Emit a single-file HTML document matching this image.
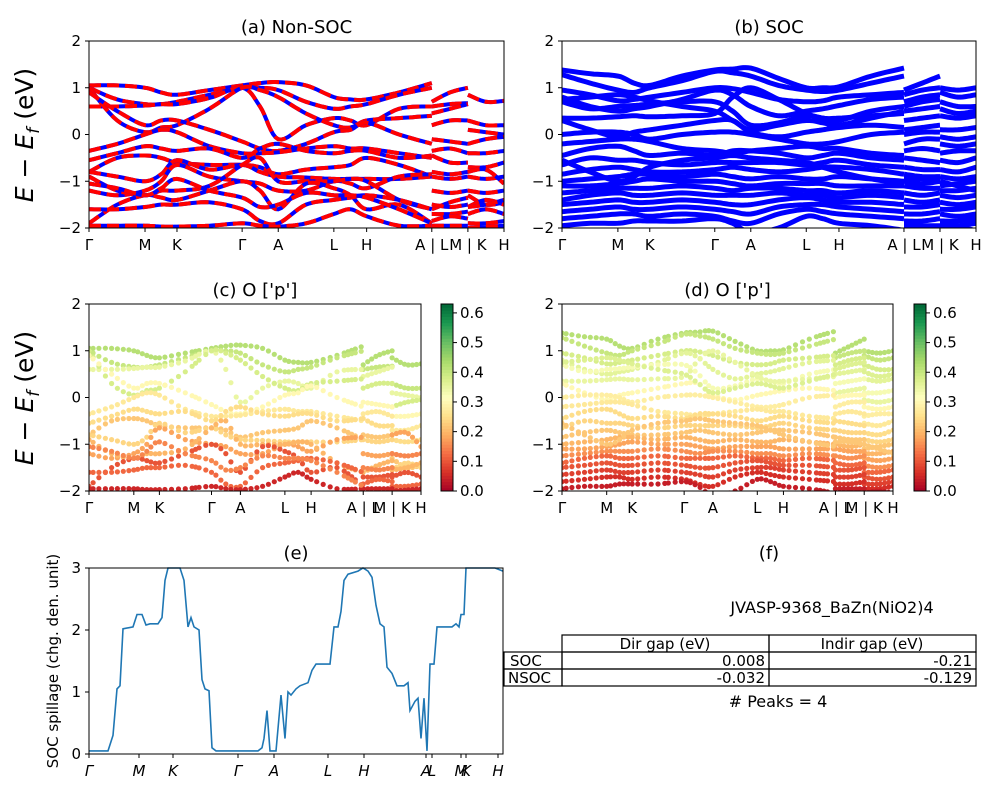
<!DOCTYPE html>
<html><head><meta charset="utf-8"><style>
body{margin:0;background:#fff}
svg{display:block;font-family:"DejaVu Sans","Liberation Sans",sans-serif}
</style></head><body>
<svg id="fig" width="1000" height="800" viewBox="0 0 1000 800" xmlns="http://www.w3.org/2000/svg"></svg>
<script>
// ---------- DATA ----------
const kGrid=[0,0.068,0.135,0.174,0.212,0.29,0.369,0.412,0.456,0.523,0.59,0.63,0.669,0.747,0.826,0.826,0.87,0.913,0.913,0.956,1];
const kTickPos=[0,0.135,0.212,0.369,0.456,0.59,0.669,0.826,0.913,1];
const kTickLabels=["Γ","M","K","Γ","A","L","H","A | L","M | K","H"];
const segBreaks=[[0,14],[15,17],[18,20]];
const nsocBands=[
[1.05,1.05,1.0,0.9,0.85,0.95,1.05,1.1,1.12,1.05,0.8,0.75,0.75,0.9,1.1,0.7,0.9,1.0,0.85,0.7,0.72],
[1.0,0.75,0.65,0.65,0.7,0.85,1.0,1.0,0.95,0.7,0.55,0.6,0.65,0.85,1.0,0.6,0.65,0.67,0.3,0.2,0.2],
[0.6,0.6,0.62,0.65,0.65,0.78,1.0,0.6,-0.1,0.2,0.35,0.3,0.2,0.55,0.6,0.45,0.55,0.65,0.1,0.05,0.0],
[1.0,0.3,0.05,0.15,0.2,0.55,1.0,0.95,0.8,0.45,0.2,0.15,0.3,0.35,0.4,0.2,0.3,0.3,-0.2,-0.1,-0.05],
[0.9,0.5,0.2,0.3,0.3,0.1,-0.15,-0.3,-0.35,-0.2,0.05,0.1,0.25,0.0,-0.2,-0.1,-0.15,-0.2,-0.4,-0.4,-0.35],
[-0.35,-0.2,0.0,0.1,0.05,-0.25,-0.4,-0.4,-0.38,-0.3,-0.25,-0.3,-0.3,-0.4,-0.5,-0.35,-0.3,-0.4,-0.7,-0.7,-0.6],
[-0.55,-0.4,-0.25,-0.3,-0.35,-0.3,-0.5,-0.3,-0.2,-0.35,-0.4,-0.35,-0.35,-0.5,-0.45,-0.45,-0.6,-0.6,-0.9,-0.95,-0.9],
[-0.8,-0.5,-0.45,-0.5,-0.6,-0.65,-0.65,-0.7,-0.85,-0.75,-0.7,-0.65,-0.5,-0.65,-0.9,-0.8,-0.85,-0.8,-1.3,-1.5,-1.45],
[-0.8,-0.9,-1.0,-0.85,-0.55,-0.75,-0.65,-0.8,-0.9,-0.92,-0.95,-0.95,-0.95,-0.95,-0.9,-0.9,-0.95,-0.9,-1.55,-1.4,-1.5],
[-1.2,-1.3,-1.2,-1.0,-0.65,-0.9,-1.0,-1.05,-1.2,-1.2,-1.0,-1.05,-1.15,-0.9,-0.85,-1.2,-1.25,-1.2,-0.8,-0.75,-1.05],
[-0.9,-1.2,-1.3,-1.2,-1.2,-1.1,-0.65,-0.5,-1.0,-1.0,-1.0,-0.95,-1.0,-1.4,-1.6,-1.6,-1.45,-1.35,-1.55,-1.5,-1.4],
[-1.9,-1.5,-1.3,-1.35,-1.4,-1.2,-1.0,-1.2,-1.6,-1.05,-1.15,-1.3,-1.6,-1.5,-1.9,-1.7,-1.7,-1.65,-1.7,-1.6,-1.7],
[-1.6,-1.6,-1.55,-1.5,-1.5,-1.45,-1.6,-1.85,-1.9,-1.5,-1.4,-1.35,-1.3,-1.4,-1.6,-1.85,-1.75,-1.8,-1.9,-1.9,-1.85],
[-1.95,-1.95,-1.95,-1.97,-1.97,-1.95,-1.9,-1.95,-1.97,-1.9,-1.7,-1.6,-1.75,-1.95,-1.95,-1.95,-1.95,-1.95,-2.0,-1.98,-1.95],
[-1.05,-1.15,-1.3,-1.15,-0.95,-1.2,-1.35,-1.55,-1.5,-1.25,-1.3,-1.3,-1.35,-1.6,-1.9,-1.5,-1.55,-1.5,-1.2,-1.25,-1.2]
];
const nsocWeights=[0.42,0.4,0.35,0.38,0.3,0.27,0.25,0.22,0.24,0.18,0.2,0.1,0.12,0.05,0.15];
const socBands=[
[1.38,1.3,1.25,1.1,1.05,1.25,1.38,1.4,1.42,1.2,1.0,1.0,1.02,1.25,1.42,0.95,1.1,1.25,1.0,0.95,1.0],
[1.28,1.1,0.95,0.9,1.0,1.15,1.35,1.32,1.25,1.05,0.95,0.92,0.95,1.1,1.25,0.85,0.95,1.0,0.9,0.8,0.85],
[0.95,0.85,0.72,0.75,0.8,0.9,1.0,0.98,0.9,0.75,0.7,0.72,0.8,0.85,0.9,0.7,0.8,0.85,0.7,0.6,0.6],
[0.8,0.6,0.5,0.55,0.6,0.75,0.95,0.85,0.6,0.4,0.5,0.55,0.62,0.75,0.8,0.5,0.55,0.6,0.4,0.35,0.4],
[0.7,0.55,0.6,0.62,0.65,0.7,0.7,0.5,0.2,0.25,0.4,0.35,0.3,0.5,0.6,0.3,0.35,0.4,0.1,0.1,0.15],
[0.35,0.35,0.38,0.4,0.38,0.4,0.45,0.8,1.0,0.75,0.45,0.35,0.35,0.4,0.45,0.1,0.15,0.2,-0.05,-0.1,-0.05],
[0.3,0.1,-0.05,0.05,0.1,0.2,0.3,0.3,0.05,-0.05,0.05,0.1,0.15,0.2,0.15,0.0,0.05,0.05,-0.2,-0.25,-0.2],
[0.0,0.05,0.05,0.0,-0.1,0.0,0.05,0.05,0.0,-0.1,-0.2,-0.2,-0.15,0.0,0.05,-0.2,-0.1,-0.1,-0.4,-0.35,-0.35],
[-0.2,-0.15,-0.1,-0.1,-0.15,-0.3,-0.35,-0.4,-0.35,-0.3,-0.25,-0.3,-0.3,-0.4,-0.45,-0.35,-0.3,-0.35,-0.55,-0.6,-0.5],
[-0.45,-0.3,-0.25,-0.35,-0.45,-0.4,-0.45,-0.35,-0.35,-0.4,-0.5,-0.45,-0.4,-0.5,-0.55,-0.5,-0.55,-0.6,-0.75,-0.8,-0.7],
[-0.65,-0.5,-0.55,-0.55,-0.6,-0.65,-0.6,-0.6,-0.6,-0.6,-0.65,-0.6,-0.55,-0.65,-0.7,-0.7,-0.75,-0.75,-0.9,-0.95,-0.9],
[-0.85,-0.75,-0.7,-0.75,-0.8,-0.8,-0.75,-0.7,-0.75,-0.8,-0.75,-0.7,-0.7,-0.75,-0.85,-0.85,-0.9,-0.9,-1.1,-1.05,-1.0],
[-1.0,-0.95,-0.9,-0.85,-0.85,-0.9,-0.85,-0.9,-0.95,-0.9,-0.95,-0.95,-0.9,-0.95,-1.0,-1.0,-1.05,-1.0,-1.2,-1.2,-1.15],
[-1.1,-1.1,-1.05,-1.0,-0.95,-1.0,-1.0,-1.05,-1.1,-1.05,-1.05,-1.05,-1.1,-1.1,-1.1,-1.1,-1.15,-1.15,-1.3,-1.35,-1.3],
[-1.25,-1.2,-1.15,-1.15,-1.15,-1.1,-1.15,-1.2,-1.15,-1.15,-1.2,-1.2,-1.25,-1.2,-1.25,-1.25,-1.3,-1.25,-1.45,-1.5,-1.45],
[-1.4,-1.3,-1.25,-1.3,-1.3,-1.25,-1.3,-1.3,-1.3,-1.25,-1.3,-1.3,-1.35,-1.3,-1.35,-1.4,-1.45,-1.4,-1.6,-1.6,-1.55],
[-1.5,-1.45,-1.4,-1.45,-1.45,-1.4,-1.45,-1.5,-1.5,-1.4,-1.35,-1.4,-1.45,-1.45,-1.5,-1.55,-1.55,-1.5,-1.7,-1.75,-1.7],
[-1.65,-1.6,-1.55,-1.6,-1.6,-1.55,-1.6,-1.65,-1.7,-1.55,-1.5,-1.5,-1.55,-1.6,-1.65,-1.7,-1.7,-1.65,-1.85,-1.85,-1.8],
[-1.8,-1.75,-1.7,-1.7,-1.75,-1.7,-1.75,-1.85,-1.9,-1.7,-1.6,-1.65,-1.7,-1.75,-1.8,-1.85,-1.85,-1.8,-1.95,-1.95,-1.9],
[-1.95,-1.9,-1.9,-1.85,-1.85,-1.85,-1.8,-1.9,-2.1,-2.0,-1.75,-1.8,-1.9,-1.95,-2.05,-1.95,-1.95,-1.95,-2.05,-2.0,-2.05],
[0.75,0.8,0.85,0.8,0.72,0.6,0.5,0.3,0.1,0.2,0.3,0.25,0.2,0.35,0.5,0.6,0.7,0.75,0.55,0.45,0.5],
[-0.55,-0.8,-1.0,-0.9,-0.7,-0.55,-0.5,-0.45,-0.5,-0.55,-0.6,-0.7,-0.8,-0.95,-1.05,-0.95,-0.95,-1.0,-1.0,-1.1,-1.2]
];
const socWeights=[0.42,0.4,0.38,0.36,0.33,0.35,0.3,0.28,0.27,0.25,0.24,0.22,0.2,0.18,0.16,0.12,0.1,0.08,0.06,0.04,0.37,0.22];
const cbTicks=[0.0,0.1,0.2,0.3,0.4,0.5,0.6];
const cbMax=0.63;
const spillK=[0,0.19,0.24,0.28,0.31,0.34,0.44,0.48,0.53,0.57,0.61,0.69,0.73,0.76,0.79,0.91,0.95,0.99,1.02,1.05,1.10,1.13,1.16,1.20,1.23,1.27,1.69,1.73,1.75,1.78,1.81,1.87,1.92,1.96,1.99,2.02,2.07,2.11,2.19,2.23,2.27,2.41,2.45,2.49,2.52,2.55,2.59,2.69,2.74,2.79,2.83,2.87,2.91,2.95,2.98,3.03,3.08,3.15,3.19,3.21,3.26,3.29,3.32,3.35,3.38,3.41,3.45,3.48,3.63,3.67,3.70,3.72,3.75,3.77,4.06,4.14];
const spillV=[0.05,0.05,0.3,1.05,1.1,2.02,2.05,2.25,2.25,2.08,2.1,2.1,2.2,2.8,3.0,3.0,2.8,2.05,2.2,2.05,2.0,1.2,1.05,1.02,0.1,0.05,0.05,0.1,0.25,0.7,0.05,0.05,0.95,0.25,1.0,0.95,1.05,1.1,1.15,1.35,1.45,1.45,2.05,2.05,2.3,2.8,2.9,2.95,3.0,2.95,2.85,2.4,2.1,2.05,1.4,1.3,1.1,1.1,1.15,0.7,0.85,0.9,0.25,0.9,0.05,1.45,1.45,2.05,2.05,2.1,2.05,2.25,2.25,3.0,3.0,2.95];
const spillTickK=[0,0.50,0.84,1.49,1.85,2.39,2.75,3.37,3.43,3.72,3.77,4.09];
const spillTickLabels=["Γ","M","K","Γ","A","L","H","A","L","M","K","H"];
const yTicksBand=[-2,-1,0,1,2];
const yTicksSpill=[0,1,2,3];

// ---------- HELPERS ----------
const NS="http://www.w3.org/2000/svg";
const svg=document.getElementById('fig');
function mk(tag,attrs,parent){const e=document.createElementNS(NS,tag);for(const k in attrs)e.setAttribute(k,attrs[k]);(parent||svg).appendChild(e);return e;}
function txt(s,x,y,size,anchor,parent,extra){const t=mk('text',Object.assign({x:x,y:y,'font-size':size,'text-anchor':anchor||'middle',fill:'#000'},extra||{}),parent);t.textContent=s;return t;}
const cmapStops=["#a50026","#d73027","#f46d43","#fdae61","#fee08b","#ffffbf","#d9ef8b","#a6d96a","#66bd63","#1a9850","#006837"];
function hex(c){return [parseInt(c.substr(1,2),16),parseInt(c.substr(3,2),16),parseInt(c.substr(5,2),16)];}
function cmap(v){v=Math.max(0,Math.min(1,v));const p=v*10,i=Math.min(9,Math.floor(p)),f=p-i;const a=hex(cmapStops[i]),b=hex(cmapStops[i+1]);return 'rgb('+a.map((x,j)=>Math.round(x+(b[j]-x)*f)).join(',')+')';}
function crSample(pts,n){const out=[];for(let i=0;i<pts.length-1;i++){const p0=pts[Math.max(0,i-1)],p1=pts[i],p2=pts[i+1],p3=pts[Math.min(pts.length-1,i+2)];for(let s=0;s<n;s++){const t=s/n,t2=t*t,t3=t2*t;const f=(a,b,c,d)=>0.5*((2*b)+(-a+c)*t+(2*a-5*b+4*c-d)*t2+(-a+3*b-3*c+d)*t3);out.push([f(p0[0],p1[0],p2[0],p3[0]),f(p0[1],p1[1],p2[1],p3[1])]);}}out.push(pts[pts.length-1]);return out;}

function bandAxes(name,x0,x1,y0,y1,title){
  const g=mk('g',{});
  const cid='clip-'+name;const cp=mk('clipPath',{id:cid},g);mk('rect',{x:x0,y:y0,width:x1-x0,height:y1-y0},cp);
  const xs=k=>x0+k*(x1-x0), ys=e=>y0+(2-e)/4*(y1-y0);
  const plot=mk('g',{'clip-path':'url(#'+cid+')'},g);
  const frame=()=>{mk('rect',{x:x0,y:y0,width:x1-x0,height:y1-y0,fill:'none',stroke:'#000','stroke-width':1},g);
    yTicksBand.forEach(v=>{mk('line',{x1:x0-4,x2:x0,y1:ys(v),y2:ys(v),stroke:'#000'},g);const t=txt(String(v).replace('-','−'),x0-8,ys(v)+5,15,'end',g);});
    kTickPos.forEach((k,i)=>{mk('line',{x1:xs(k),x2:xs(k),y1:y1,y2:y1+4,stroke:'#000'},g);const t=txt(kTickLabels[i],xs(k),y1+22,15,'middle',g);});
    const tt=txt(title,(x0+x1)/2,y0-8,18,'middle',g);};
  return {g,plot,xs,ys,frame};
}
function bandPts(ax,band,seg){const p=[];for(let i=seg[0];i<=seg[1];i++)p.push([ax.xs(kGrid[i]),ax.ys(band[i])]);return crSample(p,8);}
function pathD(pts){return 'M'+pts.map(p=>p[0].toFixed(1)+','+p[1].toFixed(1)).join('L');}

// ---------- PANEL A ----------
const A=bandAxes('panel-a-nonsoc',89,504,41,228,'(a) Non-SOC');
nsocBands.forEach(b=>segBreaks.forEach(s=>{const d=pathD(bandPts(A,b,s));
  const l1=mk('path',{d:d,fill:'none',stroke:'#0000ff','stroke-width':4},A.plot);
  const l2=mk('path',{d:d,fill:'none',stroke:'#ff0000','stroke-width':4,'stroke-dasharray':'12,6'},A.plot);}));
A.frame();
// ---------- PANEL B ----------
const B=bandAxes('panel-b-soc',562,976,41,228,'(b) SOC');
socBands.forEach(b=>segBreaks.forEach(s=>{const l=mk('path',{d:pathD(bandPts(B,b,s)),fill:'none',stroke:'#0000ff','stroke-width':5},B.plot);}));
B.frame();
// ---------- PANELS C, D ----------
function dotPanel(ax,bands,wts){bands.forEach((b,bi)=>segBreaks.forEach(s=>{const pts=bandPts(ax,b,s);let last=-99;pts.forEach(p=>{if(p[0]-last>=3.5){last=p[0];const c=mk('circle',{cx:p[0].toFixed(1),cy:p[1].toFixed(1),r:2.6,fill:cmap(wts[bi]/cbMax)},ax.plot);}});}));}
function colorbar(name,x,y0,y1){const g=mk('g',{});
  const n=60,h=(y1-y0)/n;for(let i=0;i<n;i++)mk('rect',{x:x,y:y1-(i+1)*h,width:12,height:h+0.5,fill:cmap((i+0.5)/n)},g);
  mk('rect',{x:x,y:y0,width:12,height:y1-y0,fill:'none',stroke:'#000'},g);
  cbTicks.forEach(v=>{const yy=y1-v/cbMax*(y1-y0);mk('line',{x1:x+12,x2:x+16,y1:yy,y2:yy,stroke:'#000'},g);const t=txt(v.toFixed(1),x+19,yy+5,15,'start',g);});}
const C=bandAxes('panel-c-o-p',89,421,304,491,'(c)  O [\'p\']');dotPanel(C,nsocBands,nsocWeights);C.frame();colorbar('colorbar-c',441,304,491);
const D=bandAxes('panel-d-o-p-soc',562,893,304,491,'(d) O [\'p\']');dotPanel(D,socBands,socWeights);D.frame();colorbar('colorbar-d',914,304,491);
[[33,135],[33,398]].forEach(p=>{const t=mk('text',{x:p[0],y:p[1],'font-size':25,'text-anchor':'middle',transform:'rotate(-90 '+p[0]+' '+p[1]+')'});
  t.innerHTML='<tspan font-style="italic">E</tspan> − <tspan font-style="italic">E</tspan><tspan font-style="italic" font-size="17" dy="6">f</tspan><tspan dy="-6"> (eV)</tspan>';});
// ---------- PANEL E ----------
(function(){const x0=89,x1=503,y0=568,y1=754,kmax=4.14,vmax=3.0;
  const g=mk('g',{});
  const xs=k=>x0+k/kmax*(x1-x0),ys=v=>y1-v/vmax*(y1-y0);
  const l=mk('path',{d:'M'+spillK.map((k,i)=>xs(k).toFixed(1)+','+ys(spillV[i]).toFixed(1)).join('L'),fill:'none',stroke:'#1f77b4','stroke-width':1.6},g);
  mk('rect',{x:x0,y:y0,width:x1-x0,height:y1-y0,fill:'none',stroke:'#000'},g);
  yTicksSpill.forEach(v=>{mk('line',{x1:x0-4,x2:x0,y1:ys(v),y2:ys(v),stroke:'#000'},g);const t=txt(String(v),x0-8,ys(v)+5,15,'end',g);});
  spillTickK.forEach((k,i)=>{mk('line',{x1:xs(k),x2:xs(k),y1:y1,y2:y1+4,stroke:'#000'},g);const t=txt(spillTickLabels[i],xs(k),y1+22,15,'middle',g,{'font-style':'italic'});});
  const tt=txt('(e)',(x0+x1)/2,y0-9,18,'middle',g);
  const yl=mk('text',{x:58,y:661,'font-size':15,'text-anchor':'middle',transform:'rotate(-90 58 661)'},g);yl.textContent='SOC spillage (chg. den. unit)';
})();
// ---------- PANEL F ----------
(function(){const g=mk('g',{});
  let t=txt('(f)',769,559,18,'middle',g);
  t=txt('JVASP-9368_BaZn(NiO2)4',832,613,16,'middle',g);
  const st={fill:'none',stroke:'#000','stroke-width':1.2};
  mk('rect',Object.assign({x:562,y:635,width:207,height:17},st),g);mk('rect',Object.assign({x:769,y:635,width:207,height:17},st),g);
  [652,669].forEach(y=>{mk('rect',Object.assign({x:504,y:y,width:58,height:17},st),g);mk('rect',Object.assign({x:562,y:y,width:207,height:17},st),g);mk('rect',Object.assign({x:769,y:y,width:207,height:17},st),g);});
  const cells=[['Dir gap (eV)',665,649,'middle'],['Indir gap (eV)',872,649,'middle'],['SOC',510,666,'start'],['0.008',765,666,'end'],['-0.21',972,666,'end'],['NSOC',508,683,'start'],['-0.032',765,683,'end'],['-0.129',972,683,'end']];
  cells.forEach(c=>{const e=txt(c[0],c[1],c[2],15,c[3],g);});
  t=txt('# Peaks = 4',778,707,16,'middle',g);
})();
</script>
</body></html>
